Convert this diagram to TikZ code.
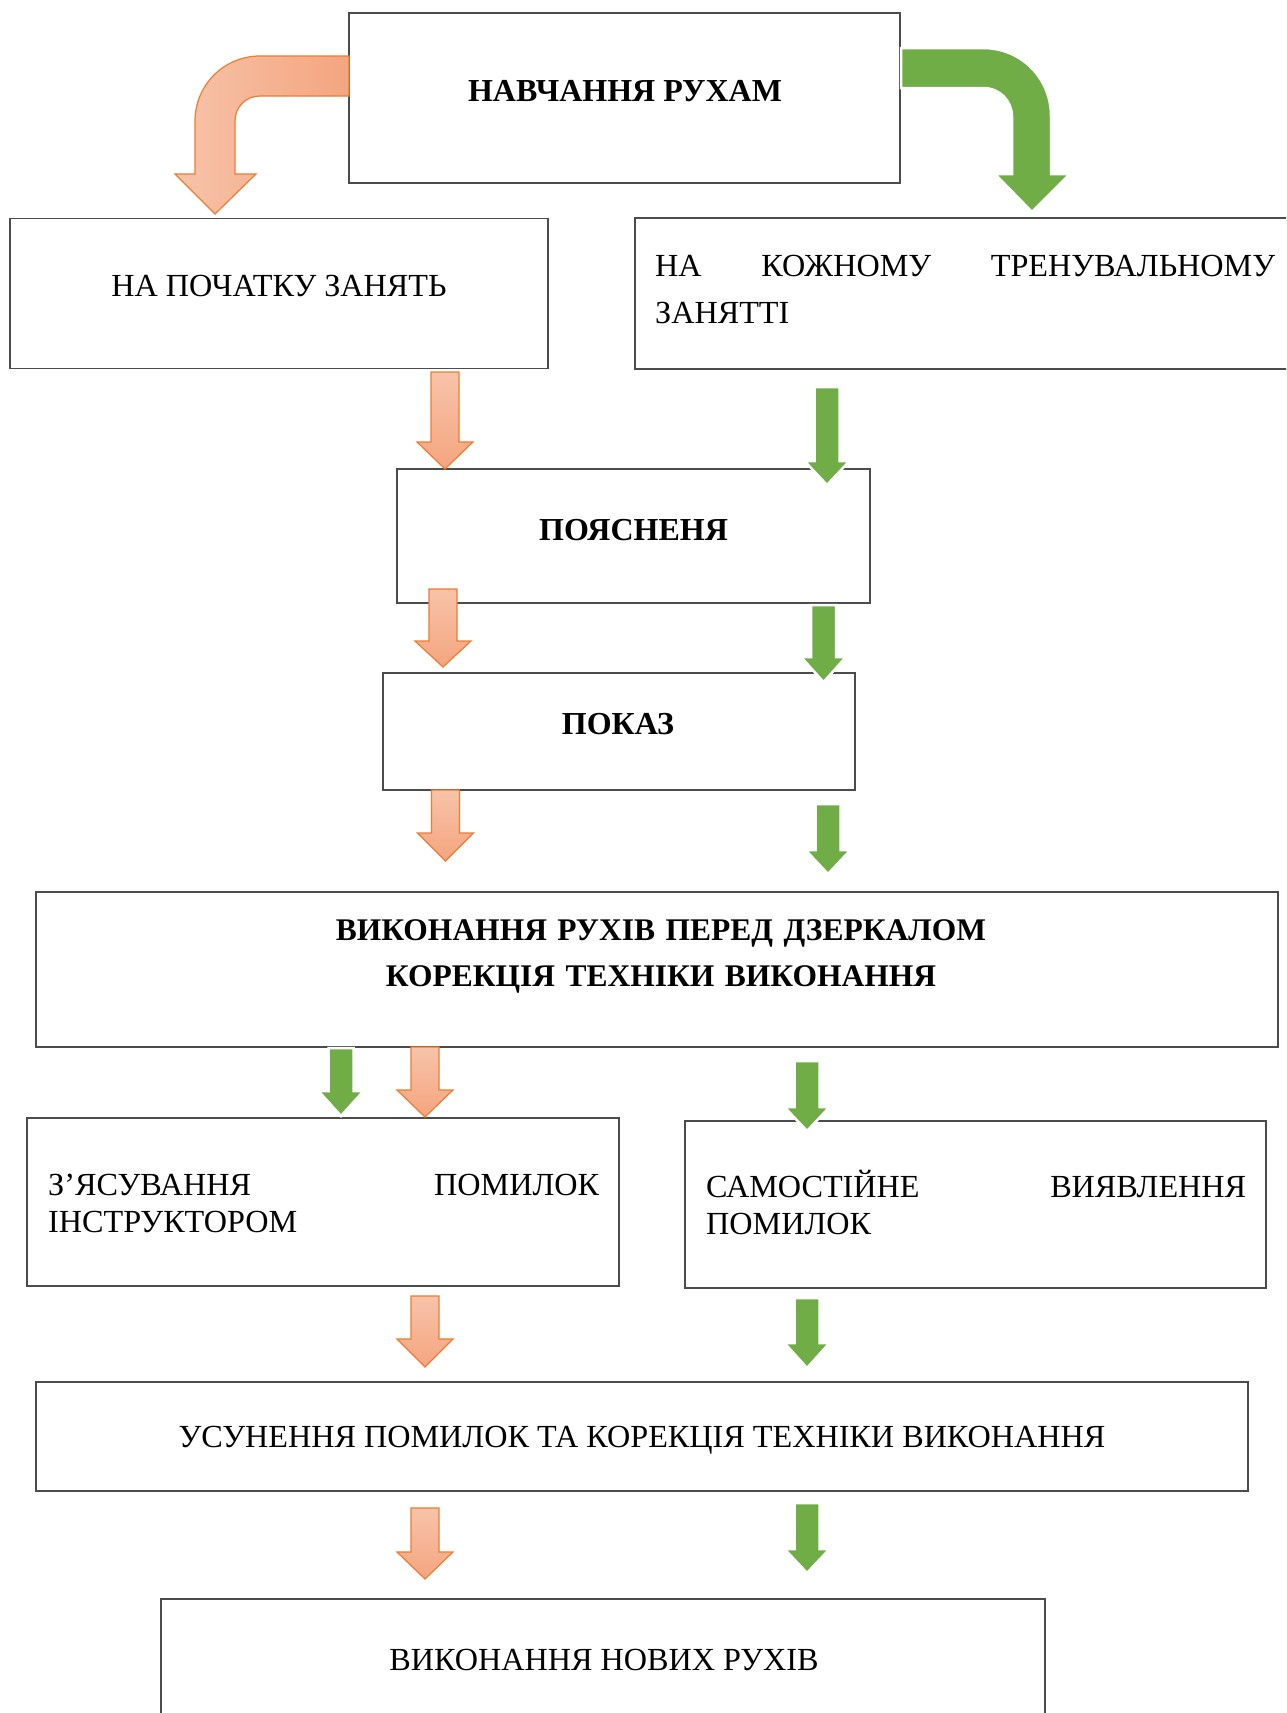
\documentclass[tikz,border=0pt]{standalone}
\usepackage{fontspec}
\setmainfont{Liberation Serif}

\definecolor{leafgreen}{HTML}{70AD47}
\definecolor{peachedge}{HTML}{ED7D31}
\definecolor{peachtop}{HTML}{F7C3A9}
\definecolor{peachbot}{HTML}{F4A57F}

% straight block arrow pointing down: style, x, top, head, tip, half shaft, half head
\newcommand{\blockarrow}[7]{\path[#1] (#2-#6,#3) -- (#2+#6,#3) -- (#2+#6,#4) -- (#2+#7,#4) -- (#2,#5) -- (#2-#7,#4) -- (#2-#6,#4) -- cycle;}
\newcommand{\orangearrow}[4]{\blockarrow{peach}{#1}{#2}{#3}{#4}{14}{28}}
\newcommand{\greenarrow}[4]{\blockarrow{leaf}{#1}{#2}{#3}{#4}{12.5}{22.5}}

\begin{document}
\begin{tikzpicture}[x=1pt,y=-1pt]
    \tikzstyle{every node}=[inner sep=0pt]
    \tikzstyle{block}=[draw=black!70, line width=1.4pt]
    \tikzstyle{plaintext}=[font=\fontsize{32.2}{37.5}\selectfont, anchor=base]
    \tikzstyle{boldtext}=[font=\bfseries\fontsize{32}{46}\selectfont, anchor=base]
    \tikzstyle{peach}=[draw=peachedge, line width=1.2pt, top color=peachtop, bottom color=peachbot]
    \tikzstyle{leaf}=[fill=leafgreen, draw=white, line width=2.5pt]
    \useasboundingbox (0,0) rectangle (1286,1713);
    \clip (0,0) rectangle (1286,1713);

    % boxes
    \node[block, minimum width=551pt, minimum height=170pt] (learn) at (624.5,98) {};
    \node[block, minimum width=538pt, minimum height=150pt] (start) at (279,293.5) {};
    \node[block, minimum width=665pt, minimum height=151pt] (each) at (967.5,293.5) {};
    \node[block, minimum width=473pt, minimum height=134pt] (explain) at (633.5,536) {};
    \node[block, minimum width=472pt, minimum height=117pt] (show) at (619,731.5) {};
    \node[block, minimum width=1242pt, minimum height=155pt] (mirror) at (657,969.5) {};
    \node[block, minimum width=592pt, minimum height=168pt] (coach) at (323,1202) {};
    \node[block, minimum width=581pt, minimum height=167pt] (self) at (975.5,1204.5) {};
    \node[block, minimum width=1212pt, minimum height=109pt] (fix) at (642,1436.5) {};
    \node[block, minimum width=884pt, minimum height=162pt] (newmoves) at (603,1680) {};

    % curved arrows from the top box
    \path[peach, left color=peachtop, right color=peachbot] (349,56) -- (260,56)
        .. controls (224,56) and (195,85) .. (195,121) -- (195,174) -- (175,174)
        -- (215,214) -- (256,174) -- (235,174) -- (235,121)
        .. controls (235,107) and (246,96) .. (260,96) -- (349,96) -- cycle;
    \path[leaf] (901,48) -- (983,48)
        .. controls (1021,48) and (1051,78) .. (1051,116) -- (1051,174) -- (1070,174)
        -- (1032,212) -- (995,174) -- (1012,174) -- (1012,117)
        .. controls (1012,101) and (1000,88) .. (983,88) -- (901,88) -- cycle;

    % straight arrows
    \orangearrow{445}{372}{442}{469}
    \orangearrow{443}{589}{641}{667}
    \orangearrow{445.5}{790}{833}{861}
    \orangearrow{425}{1047}{1090}{1117}
    \orangearrow{425}{1296}{1339}{1367}
    \orangearrow{425}{1508}{1552}{1579}
    \greenarrow{827}{387}{461}{485}
    \greenarrow{823.5}{605}{657}{682}
    \greenarrow{828}{804}{850}{874}
    \greenarrow{341}{1048}{1091}{1116}
    \greenarrow{807}{1061}{1107}{1131}
    \greenarrow{807}{1298}{1343}{1368}
    \greenarrow{807}{1503}{1549}{1573}

    % texts
    \node[boldtext] (learntxt) at (625,101.7) {НАВЧАННЯ РУХАМ};
    \node[plaintext] (starttxt) at (279,296) {НА ПОЧАТКУ ЗАНЯТЬ};
    \node[plaintext, font=\fontsize{32.2}{47.5}\selectfont, text width=620pt, align=left, anchor=base west] (eachtxt) at (655,276)
        {НА\hfill КОЖНОМУ\hfill ТРЕНУВАЛЬНОМУ\\ЗАНЯТТІ};
    \node[boldtext] (explaintxt) at (633.5,540) {ПОЯСНЕНЯ};
    \node[boldtext] (showtxt) at (618,734) {ПОКАЗ};
    \node[boldtext, font=\bfseries\fontsize{31.5}{46}\selectfont, text width=1000pt, align=center] (mirrortxt) at (661,940.5)
        {ВИКОНАННЯ РУХІВ ПЕРЕД ДЗЕРКАЛОМ\\КОРЕКЦІЯ ТЕХНІКИ ВИКОНАННЯ};
    \node[plaintext, text width=551pt, align=left, anchor=base west] (coachtxt) at (48,1195)
        {З’ЯСУВАННЯ\hfill ПОМИЛОК\\ІНСТРУКТОРОМ};
    \node[plaintext, text width=540pt, align=left, anchor=base west] (selftxt) at (706,1197)
        {САМОСТІЙНЕ\hfill ВИЯВЛЕННЯ\\ПОМИЛОК};
    \node[plaintext] (fixtxt) at (642,1447) {УСУНЕННЯ ПОМИЛОК ТА КОРЕКЦІЯ ТЕХНІКИ ВИКОНАННЯ};
    \node[plaintext] (newtxt) at (604,1670) {ВИКОНАННЯ НОВИХ РУХІВ};
\end{tikzpicture}
\end{document}
